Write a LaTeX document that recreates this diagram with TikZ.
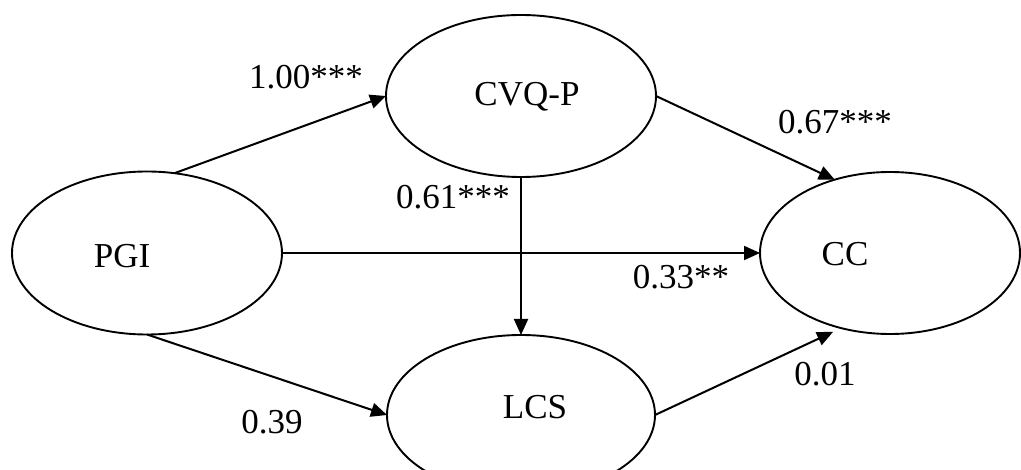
\documentclass[tikz,border=0pt]{standalone}
\usepackage{fontspec}
\setmainfont{Liberation Serif}
\usetikzlibrary{shapes.geometric,arrows.meta}
\begin{document}
\begin{tikzpicture}[x=1pt,y=-1pt,
  latent/.style={ellipse,draw=black,line width=1.9pt,inner sep=0pt,outer sep=0pt},
  txt/.style={font=\fontsize{35}{40}\selectfont,inner sep=0pt,anchor=center},
  path/.style={line width=2pt,-{Triangle[length=16pt,width=14pt]}}]
\useasboundingbox (0,0) rectangle (1021,470);
\node[latent,minimum width=270pt,minimum height=163pt] (pgi) at (147,253) {};
\node[latent,minimum width=270pt,minimum height=162pt] (cvq) at (521,96) {};
\node[latent,minimum width=260pt,minimum height=162pt] (cc) at (890,253) {};
\node[latent,minimum width=268pt,minimum height=160pt] (lcs) at (521,415) {};
\node[txt] (tpgi) at (122,256) {PGI};
\node[txt] (tcvq) at (527,97) {CVQ-P};
\node[txt] (tcc) at (845,254) {CC};
\node[txt] (tlcs) at (535,407) {LCS};
\draw[path] (pgi.71) -- (cvq.west);
\draw[path] (cvq.east) -- (cc.127);
\draw[path] (cvq.south) -- (lcs.north);
\draw[path] (pgi.east) -- (cc.west);
\draw[path] (pgi.south) -- (lcs.west);
\draw[path,shorten >=9pt] (lcs.east) -- (cc.237);
\node[txt] (l1) at (306,77) {1.00***};
\node[txt] (l2) at (453,197) {0.61***};
\node[txt] (l3) at (835,122) {0.67***};
\node[txt] (l4) at (681,277) {0.33**};
\node[txt] (l5) at (825,374) {0.01};
\node[txt] (l6) at (272,422) {0.39};
\end{tikzpicture}
\end{document}
